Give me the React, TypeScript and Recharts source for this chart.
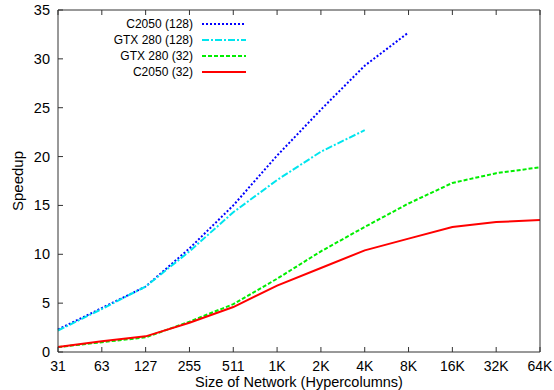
import { LineChart, Line, XAxis, YAxis, Legend } from 'recharts';

const categories = ['31', '63', '127', '255', '511', '1K', '2K', '4K', '8K', '16K', '32K', '64K'];
const yTicks = [0, 5, 10, 15, 20, 25, 30, 35];

const c2050_128 = [2.3, 4.5, 6.7, 10.6, 15.0, 20.1, 24.8, 29.3, 32.7, null, null, null];
const gtx280_128 = [2.2, 4.4, 6.7, 10.3, 14.3, 17.6, 20.5, 22.7, null, null, null, null];
const gtx280_32 = [0.5, 1.0, 1.5, 3.1, 4.9, 7.5, 10.3, 12.8, 15.2, 17.3, 18.3, 18.9];
const c2050_32 = [0.5, 1.1, 1.6, 3.0, 4.6, 6.8, 8.6, 10.4, 11.6, 12.8, 13.3, 13.5];

const data = categories.map((c, i) => ({
  size: c,
  c128: c2050_128[i],
  g128: gtx280_128[i],
  g32: gtx280_32[i],
  c32: c2050_32[i],
}));

const series = [
  { key: 'c128', name: 'C2050 (128)', color: '#0000ff', dash: '2 2', width: 2 },
  { key: 'g128', name: 'GTX 280 (128)', color: '#00e5ee', dash: '7 2 2 2', width: 2 },
  { key: 'g32', name: 'GTX 280 (32)', color: '#00ee00', dash: '4 2', width: 2 },
  { key: 'c32', name: 'C2050 (32)', color: '#ff0000', dash: undefined, width: 2 },
];

const FONT = '"Liberation Sans", Arial, Helvetica, sans-serif';
const TICK = 5;

function BottomTick({ x, y, payload }: any) {
  return (
    <g>
      <line x1={x} x2={x} y1={y} y2={y - TICK} stroke="#333" />
      <text x={x} y={y + 18.5} textAnchor="middle" fontSize={14} fontFamily={FONT} fill="#000">
        {payload.value}
      </text>
    </g>
  );
}

function TopTick({ x, y }: any) {
  return <line x1={x} x2={x} y1={y} y2={y + TICK} stroke="#333" />;
}

function LeftTick({ x, y, payload }: any) {
  return (
    <g>
      <line x1={x} x2={x + TICK} y1={y} y2={y} stroke="#333" />
      <text x={x - 8} y={y + 5} textAnchor="end" fontSize={14.5} fontFamily={FONT} fill="#000">
        {payload.value}
      </text>
    </g>
  );
}

function RightTick({ x, y }: any) {
  return <line x1={x} x2={x - TICK} y1={y} y2={y} stroke="#333" />;
}

function KeyBox() {
  return (
    <svg width={260} height={80}>
      {series.map((s, i) => {
        const yy = 10 + i * 16;
        return (
          <g key={s.key}>
            <text x={193} y={yy + 4} textAnchor="end" fontSize={12} fontFamily={FONT} fill="#000">
              {s.name}
            </text>
            <line x1={202} x2={246} y1={yy} y2={yy} stroke={s.color} strokeWidth={s.width} strokeDasharray={s.dash} />
          </g>
        );
      })}
    </svg>
  );
}

export default function App() {
  return (
    <div style={{ position: 'absolute', left: 0, top: 0, width: 554, height: 390, background: '#fff', overflow: 'hidden' }}>
      <LineChart width={554} height={390} data={data} margin={{ top: 0, right: 0, bottom: 0, left: 0 }}>
        <XAxis
          dataKey="size"
          height={38}
          tickSize={0}
          tickMargin={0}
          tickLine={false}
          interval={0}
          stroke="#333"
          tick={<BottomTick />}
          label={{
            content: ({ viewBox }: any) => (
              <text x={viewBox.x + viewBox.width / 2} y={viewBox.y + 35} textAnchor="middle" fontSize={14.5} fontFamily={FONT} fill="#000">
                Size of Network (Hypercolumns)
              </text>
            ),
          }}
        />
        <XAxis
          xAxisId="top"
          orientation="top"
          dataKey="size"
          height={10}
          tickSize={0}
          tickMargin={0}
          tickLine={false}
          interval={0}
          stroke="#333"
          tick={<TopTick />}
        />
        <YAxis
          width={58}
          domain={[0, 35]}
          ticks={yTicks}
          tickSize={0}
          tickMargin={0}
          tickLine={false}
          stroke="#333"
          tick={<LeftTick />}
          label={{
            content: ({ viewBox }: any) => {
              const cy = viewBox.y + viewBox.height / 2;
              return (
                <text x={23} y={cy} transform={`rotate(-90 23 ${cy})`} textAnchor="middle" fontSize={15} fontFamily={FONT} fill="#000">
                  Speedup
                </text>
              );
            },
          }}
        />
        <YAxis
          yAxisId="right"
          orientation="right"
          width={14}
          domain={[0, 35]}
          ticks={yTicks}
          tickSize={0}
          tickMargin={0}
          tickLine={false}
          stroke="#333"
          tick={<RightTick />}
        />
        <Legend
          layout="vertical"
          align="center"
          verticalAlign="middle"
          wrapperStyle={{ position: 'absolute', left: 0, top: 14, width: 260, height: 80 }}
          content={() => <KeyBox />}
        />
        {series.map((s) => (
          <Line
            key={s.key}
            dataKey={s.key}
            name={s.name}
            type="linear"
            stroke={s.color}
            strokeWidth={s.width}
            strokeDasharray={s.dash}
            dot={false}
            activeDot={false}
            connectNulls={false}
            isAnimationActive={false}
          />
        ))}
      </LineChart>
    </div>
  );
}
